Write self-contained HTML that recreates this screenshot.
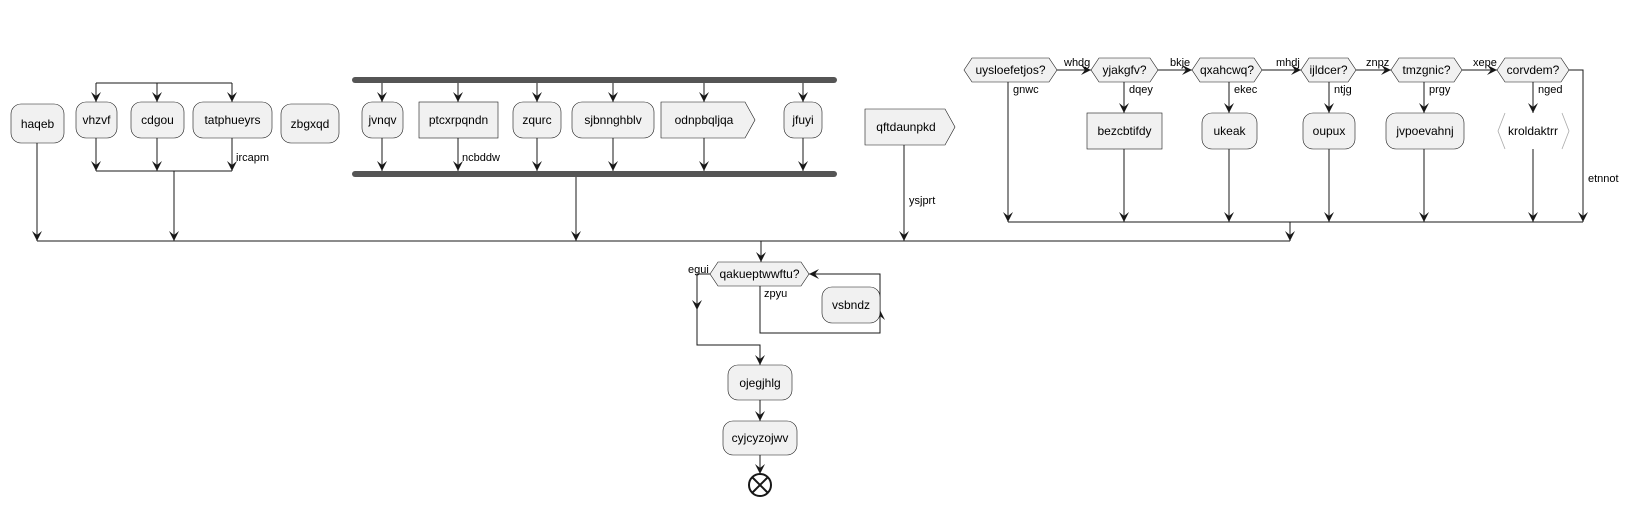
<!DOCTYPE html>
<html><head><meta charset="utf-8"><style>
html,body{margin:0;padding:0;background:#fff;}
svg{display:block;}
text{font-family:"Liberation Sans",Arial,sans-serif;font-size:12px;fill:#000;}
.l{font-size:11px;}
.b{fill:#f1f1f1;stroke:#181818;stroke-width:0.6;}
.k{stroke:#181818;stroke-width:1;fill:none;}
</style></head><body>
<svg width="1628" height="505" viewBox="0 0 1628 505" xmlns="http://www.w3.org/2000/svg">
<defs>
<marker id="a" markerUnits="userSpaceOnUse" markerWidth="11" markerHeight="10" refX="10" refY="5" orient="auto">
<path d="M0,0 L10,5 L0,10 L4,5 Z" fill="#181818"/>
</marker>
</defs>

<!-- left group -->
<rect class="b" x="11" y="104" width="53" height="39" rx="10"/>
<text x="37.5" y="128" text-anchor="middle">haqeb</text>
<line class="k" x1="37" y1="143" x2="37" y2="241" marker-end="url(#a)"/>

<line class="k" x1="96" y1="83" x2="232" y2="83"/>
<line class="k" x1="96" y1="83" x2="96" y2="102" marker-end="url(#a)"/>
<line class="k" x1="157" y1="83" x2="157" y2="102" marker-end="url(#a)"/>
<line class="k" x1="232" y1="83" x2="232" y2="102" marker-end="url(#a)"/>
<rect class="b" x="76" y="102" width="41" height="36" rx="10"/>
<text x="96.5" y="124" text-anchor="middle">vhzvf</text>
<rect class="b" x="131" y="102" width="53" height="36" rx="10"/>
<text x="157.5" y="124" text-anchor="middle">cdgou</text>
<rect class="b" x="193" y="102" width="79" height="36" rx="10"/>
<text x="232.5" y="124" text-anchor="middle">tatphueyrs</text>
<line class="k" x1="96" y1="138" x2="96" y2="171" marker-end="url(#a)"/>
<line class="k" x1="157" y1="138" x2="157" y2="171" marker-end="url(#a)"/>
<line class="k" x1="232" y1="138" x2="232" y2="171" marker-end="url(#a)"/>
<text class="l" x="236" y="161">ircapm</text>
<line class="k" x1="96" y1="171" x2="232" y2="171"/>
<line class="k" x1="174" y1="171" x2="174" y2="241" marker-end="url(#a)"/>

<rect class="b" x="281" y="104" width="58" height="39" rx="10"/>
<text x="310" y="128" text-anchor="middle">zbgxqd</text>

<!-- fork -->
<rect x="352" y="77" width="485" height="6" rx="3" fill="#555"/>
<rect x="352" y="171" width="485" height="6" rx="3" fill="#555"/>
<g>
<line class="k" x1="382" y1="83" x2="382" y2="102" marker-end="url(#a)"/>
<line class="k" x1="458" y1="83" x2="458" y2="102" marker-end="url(#a)"/>
<line class="k" x1="537" y1="83" x2="537" y2="102" marker-end="url(#a)"/>
<line class="k" x1="613" y1="83" x2="613" y2="102" marker-end="url(#a)"/>
<line class="k" x1="704" y1="83" x2="704" y2="102" marker-end="url(#a)"/>
<line class="k" x1="803" y1="83" x2="803" y2="102" marker-end="url(#a)"/>
<line class="k" x1="382" y1="138" x2="382" y2="171" marker-end="url(#a)"/>
<line class="k" x1="458" y1="138" x2="458" y2="171" marker-end="url(#a)"/>
<line class="k" x1="537" y1="138" x2="537" y2="171" marker-end="url(#a)"/>
<line class="k" x1="613" y1="138" x2="613" y2="171" marker-end="url(#a)"/>
<line class="k" x1="704" y1="138" x2="704" y2="171" marker-end="url(#a)"/>
<line class="k" x1="803" y1="138" x2="803" y2="171" marker-end="url(#a)"/>
</g>
<rect class="b" x="362" y="102" width="41" height="36" rx="10"/>
<text x="382.5" y="124" text-anchor="middle">jvnqv</text>
<rect class="b" x="419" y="102" width="79" height="36"/>
<text x="458.5" y="124" text-anchor="middle">ptcxrpqndn</text>
<text class="l" x="462" y="161">ncbddw</text>
<rect class="b" x="513" y="102" width="48" height="36" rx="10"/>
<text x="537" y="124" text-anchor="middle">zqurc</text>
<rect class="b" x="572" y="102" width="82" height="36" rx="10"/>
<text x="613" y="124" text-anchor="middle">sjbnnghblv</text>
<polygon class="b" points="661,102 745,102 755,120 745,138 661,138"/>
<text x="704" y="124" text-anchor="middle">odnpbqljqa</text>
<rect class="b" x="784" y="102" width="38" height="36" rx="10"/>
<text x="803" y="124" text-anchor="middle">jfuyi</text>
<line class="k" x1="576" y1="177" x2="576" y2="241" marker-end="url(#a)"/>

<polygon class="b" points="865,109 945,109 955,127 945,145 865,145"/>
<text x="906" y="131" text-anchor="middle">qftdaunpkd</text>
<line class="k" x1="904" y1="145" x2="904" y2="241" marker-end="url(#a)"/>
<text class="l" x="909" y="204">ysjprt</text>

<!-- merge -->
<line class="k" x1="37" y1="241" x2="1290" y2="241"/>
<line class="k" x1="761" y1="241" x2="761" y2="262" marker-end="url(#a)"/>

<!-- right group -->
<polygon class="b" points="964,70 972,58 1049,58 1057,70 1049,82 972,82"/>
<text x="1010.5" y="74" text-anchor="middle">uysloefetjos?</text>
<polygon class="b" points="1091,70 1099,58 1150,58 1158,70 1150,82 1099,82"/>
<text x="1124.5" y="74" text-anchor="middle">yjakgfv?</text>
<polygon class="b" points="1192,70 1200,58 1254,58 1262,70 1254,82 1200,82"/>
<text x="1227" y="74" text-anchor="middle">qxahcwq?</text>
<polygon class="b" points="1301,70 1309,58 1348,58 1356,70 1348,82 1309,82"/>
<text x="1328.5" y="74" text-anchor="middle">ijldcer?</text>
<polygon class="b" points="1391,70 1399,58 1454,58 1462,70 1454,82 1399,82"/>
<text x="1426.5" y="74" text-anchor="middle">tmzgnic?</text>
<polygon class="b" points="1497,70 1505,58 1561,58 1569,70 1561,82 1505,82"/>
<text x="1533" y="74" text-anchor="middle">corvdem?</text>

<line class="k" x1="1057" y1="70" x2="1091" y2="70" marker-end="url(#a)"/>
<line class="k" x1="1158" y1="70" x2="1192" y2="70" marker-end="url(#a)"/>
<line class="k" x1="1262" y1="70" x2="1301" y2="70" marker-end="url(#a)"/>
<line class="k" x1="1356" y1="70" x2="1391" y2="70" marker-end="url(#a)"/>
<line class="k" x1="1462" y1="70" x2="1497" y2="70" marker-end="url(#a)"/>
<text class="l" x="1064" y="66">whdg</text>
<text class="l" x="1170" y="66">bkje</text>
<text class="l" x="1276" y="66">mhdj</text>
<text class="l" x="1366" y="66">znpz</text>
<text class="l" x="1473" y="66">xepe</text>

<line class="k" x1="1008" y1="82" x2="1008" y2="222" marker-end="url(#a)"/>
<text class="l" x="1013" y="93">gnwc</text>
<line class="k" x1="1124" y1="82" x2="1124" y2="113" marker-end="url(#a)"/>
<text class="l" x="1129" y="93">dqey</text>
<line class="k" x1="1229" y1="82" x2="1229" y2="113" marker-end="url(#a)"/>
<text class="l" x="1234" y="93">ekec</text>
<line class="k" x1="1329" y1="82" x2="1329" y2="113" marker-end="url(#a)"/>
<text class="l" x="1334" y="93">ntjg</text>
<line class="k" x1="1424" y1="82" x2="1424" y2="113" marker-end="url(#a)"/>
<text class="l" x="1429" y="93">prgy</text>
<line class="k" x1="1533" y1="82" x2="1533" y2="113" marker-end="url(#a)"/>
<text class="l" x="1538" y="93">nged</text>

<rect class="b" x="1087" y="113" width="75" height="36"/>
<text x="1124.5" y="135" text-anchor="middle">bezcbtifdy</text>
<rect class="b" x="1202" y="113" width="55" height="36" rx="10"/>
<text x="1229.5" y="135" text-anchor="middle">ukeak</text>
<rect class="b" x="1303" y="113" width="52" height="36" rx="10"/>
<text x="1329" y="135" text-anchor="middle">oupux</text>
<rect class="b" x="1386" y="113" width="78" height="36" rx="10"/>
<text x="1425" y="135" text-anchor="middle">jvpoevahnj</text>
<polyline points="1505,113 1498,131 1505,149" fill="none" stroke="#aaa" stroke-width="0.8"/>
<polyline points="1562,113 1569,131 1562,149" fill="none" stroke="#aaa" stroke-width="0.8"/>
<text x="1533" y="135" text-anchor="middle">kroldaktrr</text>

<line class="k" x1="1124" y1="149" x2="1124" y2="222" marker-end="url(#a)"/>
<line class="k" x1="1229" y1="149" x2="1229" y2="222" marker-end="url(#a)"/>
<line class="k" x1="1329" y1="149" x2="1329" y2="222" marker-end="url(#a)"/>
<line class="k" x1="1424" y1="149" x2="1424" y2="222" marker-end="url(#a)"/>
<line class="k" x1="1533" y1="149" x2="1533" y2="222" marker-end="url(#a)"/>
<polyline class="k" points="1569,70 1583,70 1583,222" marker-end="url(#a)"/>
<text class="l" x="1588" y="182">etnnot</text>
<line class="k" x1="1008" y1="222" x2="1583" y2="222"/>
<line class="k" x1="1290" y1="222" x2="1290" y2="241" marker-end="url(#a)"/>

<!-- loop -->
<polygon class="b" points="710,274 718,262 801,262 809,274 801,286 718,286"/>
<text x="759.5" y="278" text-anchor="middle">qakueptwwftu?</text>
<text class="l" x="688" y="273">egui</text>
<polyline class="k" points="710,274 697,274 697,310"  marker-end="url(#a)"/>
<polyline class="k" points="697,305 697,345 760,345 760,365" marker-end="url(#a)"/>
<text class="l" x="764" y="297">zpyu</text>
<polyline class="k" points="760,286 760,333 880,333 880,310" marker-end="url(#a)"/>
<polyline class="k" points="880,315 880,274 809,274" marker-end="url(#a)"/>
<rect class="b" x="822" y="287" width="58" height="36" rx="10"/>
<text x="851" y="309" text-anchor="middle">vsbndz</text>

<rect class="b" x="728" y="365" width="64" height="35" rx="10"/>
<text x="760" y="387" text-anchor="middle">ojegjhlg</text>
<line class="k" x1="760" y1="400" x2="760" y2="421" marker-end="url(#a)"/>
<rect class="b" x="723" y="421" width="74" height="34" rx="10"/>
<text x="760" y="442" text-anchor="middle">cyjcyzojwv</text>
<line class="k" x1="760" y1="455" x2="760" y2="474" marker-end="url(#a)"/>
<circle cx="760" cy="485" r="11" fill="#fff" stroke="#181818" stroke-width="2"/>
<line x1="752" y1="477" x2="768" y2="493" stroke="#181818" stroke-width="2"/>
<line x1="768" y1="477" x2="752" y2="493" stroke="#181818" stroke-width="2"/>
</svg>
</body></html>
